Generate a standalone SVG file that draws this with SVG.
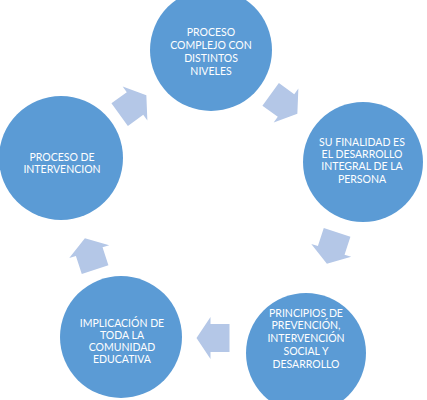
<svg xmlns="http://www.w3.org/2000/svg" width="427" height="400" viewBox="0 0 427 400">
  <style>
    .node { fill: #5b9bd5; }
    .lbl { fill: #ffffff; font-family: Lato, "Liberation Sans", sans-serif; font-size: 10.5px; text-anchor: middle; }
    .arr { fill: #b4c7e7; }
  </style>
  <defs>
    <polygon id="arrow" points="-16.5,-14 2.5,-14 2.5,-21 16.5,0 2.5,21 2.5,14 -16.5,14"/>
  </defs>
  <rect width="427" height="400" fill="#ffffff"/>
  <g id="connectors">
    <use href="#arrow" class="arr" transform="translate(133,105) rotate(-36)"/>
    <use href="#arrow" class="arr" transform="translate(284,104) rotate(36)"/>
    <use href="#arrow" class="arr" transform="translate(332,248) rotate(108)"/>
    <use href="#arrow" class="arr" transform="translate(213,338) rotate(180)"/>
    <use href="#arrow" class="arr" transform="translate(90,254) rotate(-108)"/>
  </g>
  <g id="n1">
    <circle class="node" cx="211" cy="50" r="61"/>
    <text class="lbl" x="211" y="36">PROCESO</text>
    <text class="lbl" x="211" y="49">COMPLEJO CON</text>
    <text class="lbl" x="211" y="62">DISTINTOS</text>
    <text class="lbl" x="211" y="75">NIVELES</text>
  </g>
  <g id="n2">
    <circle class="node" cx="363" cy="162" r="60"/>
    <text class="lbl" x="362" y="146">SU FINALIDAD ES</text>
    <text class="lbl" x="362" y="158">EL DESARROLLO</text>
    <text class="lbl" x="362" y="170">INTEGRAL DE LA</text>
    <text class="lbl" x="362" y="183">PERSONA</text>
  </g>
  <g id="n3">
    <circle class="node" cx="306" cy="353" r="60"/>
    <text class="lbl" x="306" y="317">PRINCIPIOS DE</text>
    <text class="lbl" x="306" y="329">PREVENCIÓN,</text>
    <text class="lbl" x="306" y="342">INTERVENCIÓN</text>
    <text class="lbl" x="306" y="355">SOCIAL Y</text>
    <text class="lbl" x="306" y="368">DESARROLLO</text>
  </g>
  <g id="n4">
    <circle class="node" cx="121" cy="337" r="61"/>
    <text class="lbl" x="122" y="327">IMPLICACIÓN DE</text>
    <text class="lbl" x="122" y="339">TODA LA</text>
    <text class="lbl" x="122" y="351">COMUNIDAD</text>
    <text class="lbl" x="122" y="363">EDUCATIVA</text>
  </g>
  <g id="n5">
    <circle class="node" cx="61" cy="158" r="62"/>
    <text class="lbl" x="62" y="161">PROCESO DE</text>
    <text class="lbl" x="62" y="173">INTERVENCION</text>
  </g>
</svg>
